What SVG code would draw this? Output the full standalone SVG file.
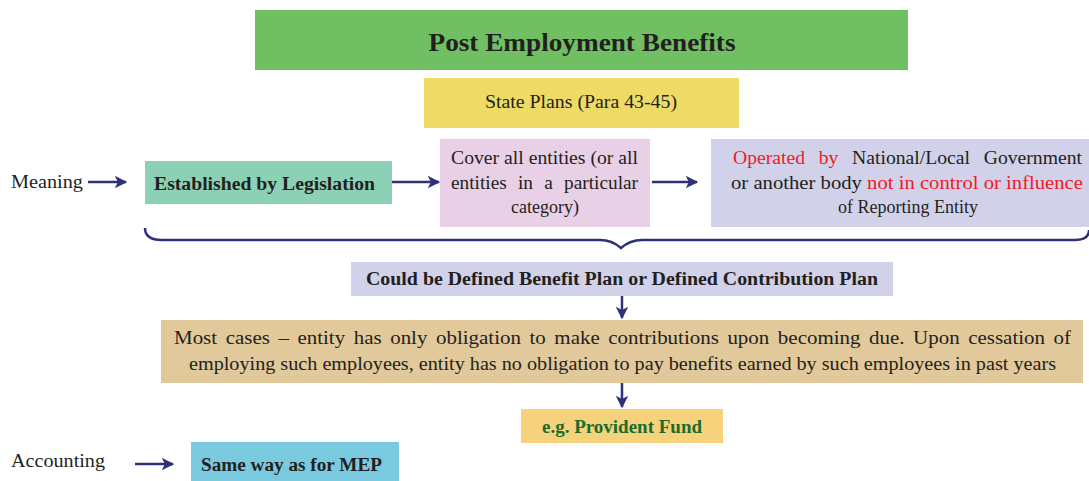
<svg xmlns="http://www.w3.org/2000/svg" width="1089" height="481" viewBox="0 0 1089 481">
<style>
text{font-family:'Liberation Serif','Times New Roman',serif;fill:#231F20;font-size:18px}
.b{font-weight:bold}
.c{text-anchor:middle}
.r{fill:#ED1C24}
.g{fill:#1B6B2C}
.t{font-size:25px}
.m{font-size:19px}
.conn{stroke:#2E3179;stroke-width:2.5;fill:none}
</style>
<defs>
<marker id="ah" viewBox="0 0 10 10" refX="9" refY="5" markerWidth="5" markerHeight="5" orient="auto" markerUnits="strokeWidth">
<path d="M0,0 L10,5 L0,10 L2.5,5 z" fill="#2E3179"/>
</marker>
</defs>
<rect width="1089" height="481" fill="#FFFFFF"/>
<g id="title"><rect x="255" y="10" width="653" height="60" fill="#70BF63"/><text class="b c t" x="582" y="51" textLength="307" lengthAdjust="spacingAndGlyphs">Post Employment Benefits</text></g>
<g id="state"><rect x="424" y="78" width="315" height="50" fill="#EEDB66"/><text class="c" x="581" y="108" textLength="192" lengthAdjust="spacingAndGlyphs">State Plans (Para 43-45)</text></g>
<g id="meaning"><text x="11" y="188" textLength="72" lengthAdjust="spacingAndGlyphs">Meaning</text></g>
<g id="legis"><rect x="145" y="161" width="247" height="43" fill="#8CD0B6"/><text class="b" x="154" y="190" textLength="221" lengthAdjust="spacingAndGlyphs">Established by Legislation</text></g>
<g id="cover"><rect x="440" y="139" width="210" height="88" fill="#E8D0E6"/>
<text x="451" y="164" textLength="187" lengthAdjust="spacingAndGlyphs">Cover all entities (or all</text>
<text x="451" y="189" textLength="187" lengthAdjust="spacingAndGlyphs" word-spacing="6">entities in a particular</text>
<text class="c" x="545" y="213">category)</text></g>
<g id="operated"><rect x="711" y="139" width="378" height="88" fill="#D1D1E9"/>
<text x="733" y="164" textLength="349" lengthAdjust="spacingAndGlyphs" word-spacing="8"><tspan class="r">Operated by</tspan> National/Local Government</text>
<text x="731" y="189" textLength="352" lengthAdjust="spacingAndGlyphs">or another body <tspan class="r">not in control or influence</tspan></text>
<text class="c" x="908" y="213">of Reporting Entity</text></g>
<g id="could"><rect x="351" y="262" width="542" height="34" fill="#D1D1E9"/><text class="b c" x="622" y="285" textLength="512" lengthAdjust="spacingAndGlyphs">Could be Defined Benefit Plan or Defined Contribution Plan</text></g>
<g id="most"><rect x="161" y="320" width="922" height="63" fill="#E1C99B"/>
<text class="m" x="174" y="344" textLength="897" lengthAdjust="spacingAndGlyphs" word-spacing="3">Most cases – entity has only obligation to make contributions upon becoming due. Upon cessation of</text>
<text class="m" x="189" y="370" textLength="867" lengthAdjust="spacingAndGlyphs">employing such employees, entity has no obligation to pay benefits earned by such employees in past years</text></g>
<g id="eg"><rect x="521" y="409" width="202" height="34" fill="#F5D27B"/><text class="b c g" x="622" y="433" textLength="160" lengthAdjust="spacingAndGlyphs">e.g. Provident Fund</text></g>
<g id="accounting"><text x="11" y="467" textLength="94" lengthAdjust="spacingAndGlyphs">Accounting</text></g>
<g id="mep"><rect x="191" y="442" width="208" height="39" fill="#79C9DF"/><text class="b" x="201" y="471" textLength="181" lengthAdjust="spacingAndGlyphs">Same way as for MEP</text></g>
<g id="connectors">
<line class="conn" x1="88" y1="182" x2="126" y2="182" marker-end="url(#ah)"/>
<line class="conn" x1="392" y1="182" x2="439" y2="182" marker-end="url(#ah)"/>
<line class="conn" x1="652" y1="182" x2="697" y2="182" marker-end="url(#ah)"/>
<path class="conn" d="M145,228 Q145,240 162,240 L600,240 Q612,240 621,248 Q630,240 642,240 L1075,240 Q1089,240 1089,230"/>
<line class="conn" x1="622" y1="296" x2="622" y2="318" marker-end="url(#ah)"/>
<line class="conn" x1="622" y1="383" x2="622" y2="407" marker-end="url(#ah)"/>
<line class="conn" x1="135" y1="464" x2="173" y2="464" marker-end="url(#ah)"/>
</g>
</svg>
